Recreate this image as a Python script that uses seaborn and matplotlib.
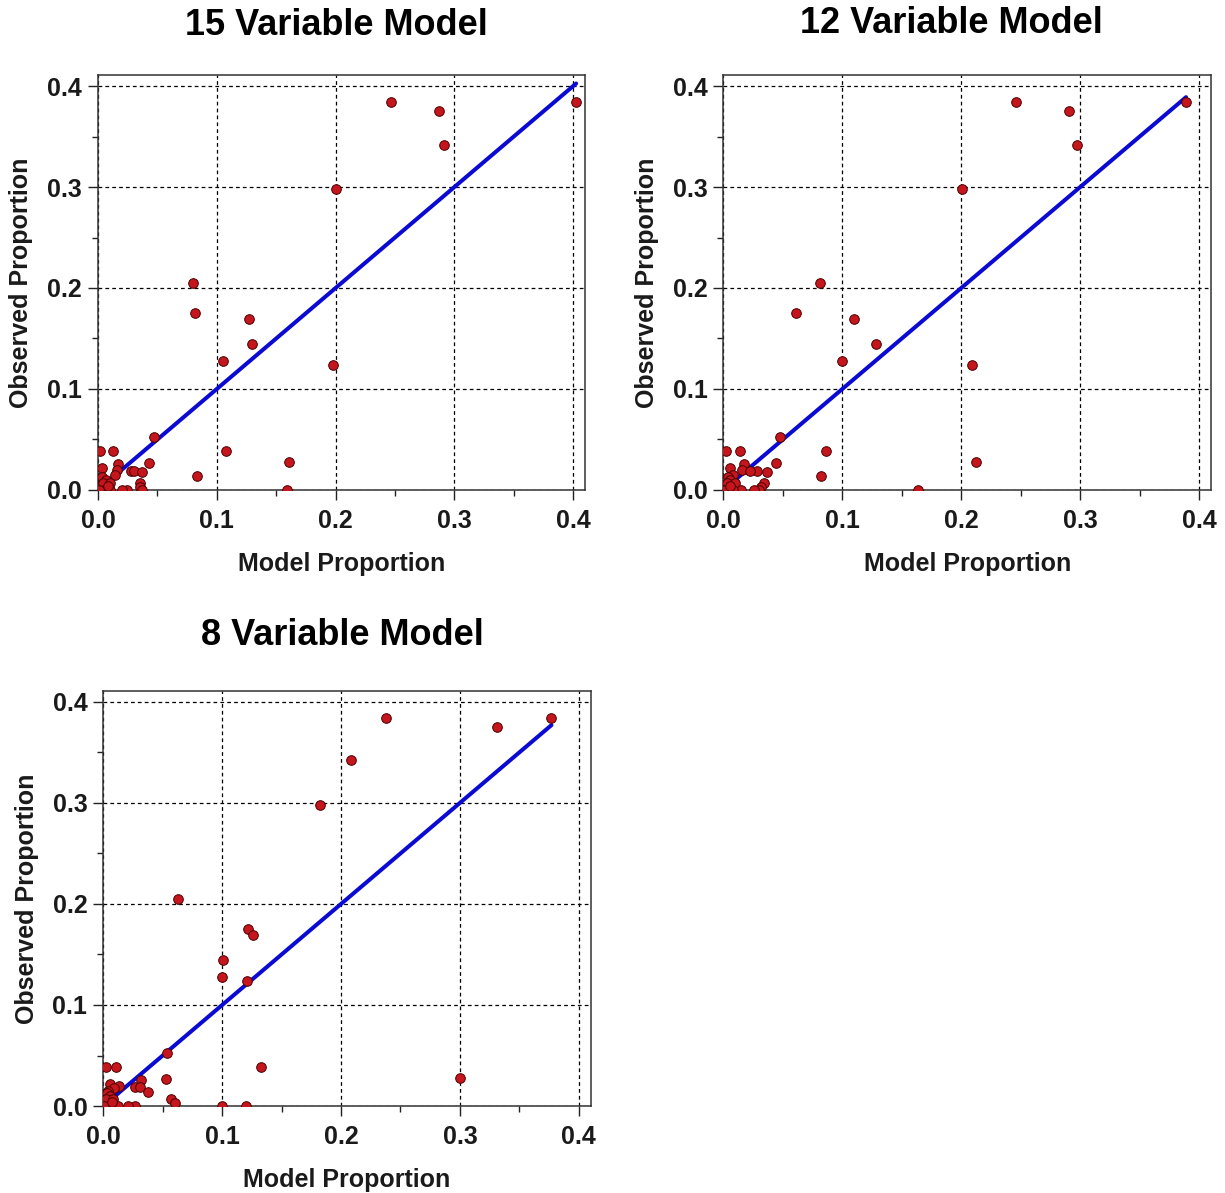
import matplotlib
matplotlib.use("Agg")
import matplotlib.pyplot as plt
from matplotlib.ticker import MultipleLocator
import numpy as np
import pandas as pd
import seaborn as sns

# Observed vs. model-predicted proportions, one entry per cell
observed = [0.384, 0.384, 0.375, 0.342, 0.298, 0.205, 0.175, 0.169, 0.145, 0.128,
            0.124, 0.052, 0.039, 0.039, 0.039, 0.028, 0.027, 0.026, 0.022, 0.020,
            0.019, 0.019, 0.018, 0.015, 0.014, 0.013, 0.010, 0.007, 0.003, 0.007,
            0.007, 0.000, 0.000, 0.000, 0.000, 0.000, 0.000, 0.000, 0.004]
model_15 = [0.247, 0.4025, 0.287, 0.291, 0.200, 0.080, 0.082, 0.127, 0.130, 0.105,
            0.198, 0.047, 0.002, 0.013, 0.108, 0.161, 0.043, 0.017, 0.003, 0.016,
            0.028, 0.030, 0.037, 0.014, 0.083, 0.003, 0.007, 0.035, 0.035, 0.004,
            0.010, 0.159, 0.037, 0.024, 0.020, 0.010, 0.005, 0.001, 0.008]
model_12 = [0.246, 0.389, 0.291, 0.297, 0.201, 0.081, 0.061, 0.110, 0.128, 0.100,
            0.209, 0.048, 0.002, 0.014, 0.086, 0.212, 0.044, 0.017, 0.006, 0.016,
            0.028, 0.022, 0.037, 0.008, 0.082, 0.004, 0.006, 0.034, 0.032, 0.003,
            0.010, 0.164, 0.030, 0.026, 0.015, 0.008, 0.004, 0.001, 0.006]
model_8 = [0.238, 0.377, 0.331, 0.208, 0.182, 0.063, 0.122, 0.126, 0.101, 0.100,
           0.121, 0.054, 0.002, 0.011, 0.133, 0.300, 0.053, 0.032, 0.006, 0.013,
           0.027, 0.031, 0.009, 0.004, 0.038, 0.003, 0.006, 0.057, 0.060, 0.002,
           0.008, 0.100, 0.120, 0.027, 0.021, 0.012, 0.005, 0.001, 0.007]
panel_titles = ["15 Variable Model", "12 Variable Model", "8 Variable Model"]
tick_values = [0.0, 0.1, 0.2, 0.3, 0.4]
tick_labels = ["0.0", "0.1", "0.2", "0.3", "0.4"]

sns.set_style("ticks")
plt.rcParams.update({
    "font.family": ["Liberation Sans", "DejaVu Sans"],
    "font.weight": "bold",
    "axes.labelweight": "bold",
    "axes.titleweight": "bold",
})

fig = plt.figure(figsize=(12.25, 11.93), dpi=100)
fig.patch.set_facecolor("white")

# axes rectangles in figure fractions: [left, bottom, width, height]
rects = [
    [0.0800, 0.5893, 0.3976, 0.3479],
    [0.5905, 0.5893, 0.3981, 0.3479],
    [0.0843, 0.0729, 0.3979, 0.3481],
]
title_x = [0.49, 0.468, 0.49]
title_pad = [29, 30, 33]

frames = []
for name, model in zip(panel_titles, [model_15, model_12, model_8]):
    frames.append(pd.DataFrame({"panel": name, "model": model, "observed": observed}))
data = pd.concat(frames, ignore_index=True)

for i, name in enumerate(panel_titles):
    ax = fig.add_axes(rects[i])
    sub = data[data["panel"] == name]

    lo, hi = sub["model"].min(), sub["model"].max()
    ref = pd.DataFrame({"x": [lo, hi], "y": [lo, hi]})
    sns.lineplot(data=ref, x="x", y="y", ax=ax, color="#0a0ad2",
                 linewidth=2.9, zorder=2)
    sns.scatterplot(data=sub, x="model", y="observed", ax=ax,
                    color="#c4161c", edgecolor="#4a0000", linewidth=0.7,
                    s=48, zorder=3, clip_on=True)

    ax.set_xlim(0, 0.41)
    ax.set_ylim(0, 0.411)
    ax.set_xticks(tick_values)
    ax.set_xticklabels(tick_labels)
    ax.set_yticks(tick_values)
    ax.set_yticklabels(tick_labels)
    ax.xaxis.set_minor_locator(MultipleLocator(0.05))
    ax.yaxis.set_minor_locator(MultipleLocator(0.05))
    ax.tick_params(axis="both", which="major", direction="out", length=7.5,
                   width=1.0, color="#222222", labelsize=18,
                   labelcolor="#1a1a1a")
    ax.tick_params(axis="x", which="major", pad=6)
    ax.tick_params(axis="y", which="major", pad=4)
    ax.tick_params(axis="both", which="minor", direction="out", length=4,
                   width=1.0, color="#222222")
    for lbl in ax.get_xticklabels() + ax.get_yticklabels():
        lbl.set_fontweight("bold")

    ax.grid(True, which="major", color="black", linestyle=(0, (3, 2.5)),
            linewidth=0.9)
    ax.set_axisbelow(True)
    for sp in ax.spines.values():
        sp.set_visible(True)
        sp.set_color("#333333")
        sp.set_linewidth(1.1)

    ax.set_xlabel("Model Proportion", fontsize=18, fontweight="bold",
                  labelpad=14, color="#1a1a1a")
    ax.set_ylabel("Observed Proportion", fontsize=18, fontweight="bold",
                  labelpad=10, color="#1a1a1a")
    ax.set_title(name, fontsize=26, fontweight="bold", x=title_x[i],
                 pad=title_pad[i], color="black")

fig.savefig("out.png", dpi=100, facecolor="white")
